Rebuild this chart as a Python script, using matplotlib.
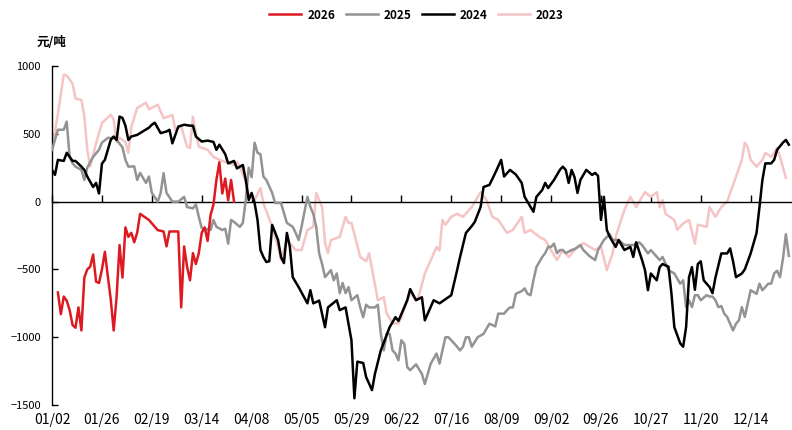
import matplotlib
matplotlib.use("Agg")
import matplotlib.pyplot as plt

plt.rcParams['font.family'] = ['Noto Sans CJK SC', 'DejaVu Sans']
plt.rcParams['font.weight'] = 'medium'

# trading-day index (0 = first trading day of the year) and spread, 元/吨
days_2026 = [2, 3, 4, 5, 6, 7, 8, 9, 10, 11,
             12, 13, 14, 15, 16, 17, 18, 19, 20, 21,
             22, 23, 24, 25, 26, 27, 28, 29, 30,
             33, 36, 38, 39, 40, 43,
             44, 45, 46, 47, 48, 49, 50, 51, 52, 53,
             54, 55, 56, 57, 58, 59, 60, 61, 62]
vals_2026 = [-670, -830, -700, -730, -800, -910, -930, -780, -950, -560,
             -500, -480, -390, -590, -600, -500, -370, -550, -720, -950,
             -700, -320, -560, -190, -260, -230, -300, -230, -90,
             -135, -210, -220, -330, -220, -220,
             -780, -330, -480, -580, -380, -460, -380, -230, -190, -290,
             -100, -20, 160, 290, 60, 170, 10, 160, 0]

days_2025 = [0, 1, 2, 4, 5, 6, 7, 8, 10, 11,
             12, 14, 16, 17, 19, 21, 22, 24, 25, 26,
             28, 29, 30, 32, 33, 34, 36, 37, 38, 39,
             41, 43, 45, 46, 48, 49, 50, 51, 54, 55,
             56, 58, 59, 60, 61, 62, 64, 65, 66, 67,
             68, 69, 70, 71, 72, 73, 75, 76, 78, 80,
             82, 83, 84, 85, 87, 88, 89, 90, 91, 92,
             93, 95, 96, 97, 98, 99, 100, 101, 102, 104,
             105, 106, 107, 108, 110, 111, 112, 113, 114, 115,
             116, 117, 118, 119, 120, 121, 122, 124, 126, 127,
             129, 131, 132, 133, 134, 135, 136, 138, 139, 140,
             141, 142, 143, 145, 147, 149, 151, 152, 154, 155,
             156, 157, 158, 160, 161, 162, 163, 164, 165, 167,
             168, 169, 170, 171, 172, 173, 174, 175, 177, 178,
             180, 181, 183, 185, 186, 188, 190, 191, 193, 195,
             197, 198, 200, 201, 203, 204, 207, 208, 210, 212,
             214, 215, 216, 217, 218, 219, 220, 221, 223, 224,
             225, 226, 227, 228, 229, 230, 232, 233, 234, 235,
             236, 237, 238, 240, 241, 242, 243, 244, 245, 246,
             247, 248, 249, 250, 251]
vals_2025 = [382, 455, 530, 530, 590, 330, 282, 258, 234, 160,
             250, 330, 382, 435, 470, 470, 455, 400, 308, 258,
             260, 160, 212, 138, 185, 64, 0, 64, 210, 64,
             0, 0, 35, -40, -50, -20, -112, -195, -209, -135,
             -186, -209, -200, -310, -135, -150, -186, -157, 12, 250,
             180, 435, 360, 350, 185, 160, 64, -10, -10, -157,
             -186, -231, -283, -186, 35, -40, -90, -186, -382, -460,
             -557, -505, -580, -530, -675, -600, -675, -630, -727, -690,
             -780, -852, -760, -780, -780, -760, -975, -1097, -975, -975,
             -1097, -1120, -1170, -1022, -1050, -1220, -1243, -1200, -1270, -1345,
             -1195, -1120, -1195, -1097, -1000, -1000, -1022, -1070, -1097, -1070,
             -1000, -1000, -1070, -1000, -975, -900, -920, -826, -826, -800,
             -780, -780, -680, -660, -640, -680, -690, -580, -483, -408,
             -380, -334, -334, -310, -380, -357, -357, -380, -357, -350,
             -320, -357, -400, -431, -357, -283, -240, -283, -283, -320,
             -320, -320, -300, -320, -382, -357, -431, -408, -505, -530,
             -605, -580, -778, -727, -778, -690, -690, -727, -690, -700,
             -700, -727, -778, -770, -826, -850, -950, -900, -875, -778,
             -850, -750, -653, -680, -605, -653, -630, -605, -605, -530,
             -510, -557, -420, -240, -400]

days_2024 = [0, 1, 2, 4, 5, 7, 8, 10, 11, 12,
             14, 15, 16, 17, 18, 20, 21, 22, 23, 24,
             25, 26, 27, 29, 33, 34, 35, 37, 39, 40,
             41, 43, 45, 47, 48, 49, 51, 53, 55, 56,
             57, 59, 60, 62, 63, 65, 66, 67, 68, 69,
             70, 71, 72, 73, 74, 75, 77, 78, 79, 80,
             81, 82, 84, 87, 88, 89, 91, 93, 94, 97,
             98, 100, 102, 103, 104, 106, 107, 109, 110, 112,
             115, 117, 118, 119, 121, 122, 124, 126, 127, 130,
             132, 135, 136, 138, 139, 141, 143, 144, 146, 147,
             149, 151, 152, 153, 154, 156, 158, 160, 161, 164,
             165, 167, 168, 169, 171, 173, 174, 175, 176, 177,
             178, 179, 180, 182, 184, 185, 186, 187, 188, 189,
             190, 192, 193, 195, 197, 198, 199, 201, 202, 203,
             204, 206, 207, 208, 210, 211, 212, 214, 215, 216,
             217, 218, 219, 220, 221, 222, 224, 225, 226, 228,
             230, 231, 232, 233, 235, 236, 238, 240, 241, 242,
             243, 245, 246, 247, 249, 250, 251]
vals_2024 = [234, 197, 308, 300, 360, 300, 300, 258, 234, 185,
             108, 138, 60, 280, 308, 455, 480, 455, 627, 617,
             560, 455, 480, 492, 545, 567, 582, 505, 517, 530,
             430, 553, 567, 560, 560, 480, 443, 450, 440, 382,
             420, 350, 282, 300, 245, 270, 160, 12, 64, -10,
             -135, -357, -408, -445, -440, -172, -283, -408, -453, -231,
             -330, -557, -630, -750, -653, -750, -730, -926, -780, -727,
             -800, -780, -1022, -1450, -1180, -1190, -1293, -1390, -1270, -1097,
             -926, -852, -880, -830, -727, -645, -727, -705, -875, -727,
             -750, -705, -690, -505, -408, -231, -180, -150, -40, 108,
             123, 212, 260, 308, 185, 234, 200, 138, 35, -75,
             35, 86, 138, 100, 160, 234, 258, 234, 138, 234,
             180, 64, 160, 234, 197, 212, 190, -135, 35, -209,
             -260, -334, -283, -357, -334, -408, -300, -431, -505, -653,
             -530, -580, -483, -460, -480, -675, -926, -1045, -1070, -926,
             -557, -483, -650, -460, -440, -580, -630, -675, -560, -382,
             -382, -345, -440, -557, -530, -500, -382, -231, -40, 160,
             282, 282, 308, 382, 435, 455, 420]

days_2023 = [0, 2, 4, 5, 7, 8, 10, 11, 12, 13,
             15, 17, 20, 21, 22, 23, 25, 26, 27, 29,
             32, 33, 36, 38, 40, 41, 42, 44, 46, 47,
             48, 49, 50, 53, 55, 57, 60, 62, 63, 64,
             66, 67, 69, 71, 72, 75, 77, 78, 80, 83,
             85, 87, 89, 90, 92, 93, 94, 95, 98, 100,
             101, 102, 105, 107, 108, 111, 113, 114, 116, 118,
             119, 122, 124, 125, 127, 129, 131, 132, 133, 134,
             136, 138, 140, 143, 146, 148, 150, 152, 155, 157,
             160, 161, 163, 166, 168, 170, 172, 174, 176, 178,
             181, 185, 187, 189, 191, 192, 195, 197, 199, 201,
             202, 204, 206, 207, 208, 209, 212, 213, 215, 217,
             219, 220, 223, 224, 226, 228, 230, 231, 233, 235,
             236, 237, 238, 240, 242, 243, 245, 247, 248, 250]
vals_2023 = [380, 650, 936, 930, 870, 760, 750, 630, 380, 260,
             430, 580, 640, 605, 440, 470, 440, 360, 550, 690,
             730, 680, 715, 615, 630, 640, 530, 555, 405, 395,
             627, 505, 405, 382, 330, 308, 285, 270, 293, 258,
             150, 50, 10, 100, -10, -186, -334, -431, -283, -357,
             -357, -209, -186, 64, -40, -305, -379, -283, -260, -112,
             -157, -157, -408, -440, -380, -727, -705, -823, -898, -898,
             -852, -675, -727, -690, -530, -431, -334, -360, -135, -170,
             -112, -90, -112, -40, 70, 12, -112, -135, -231, -209,
             -112, -231, -209, -260, -283, -357, -431, -357, -408, -357,
             -305, -357, -330, -505, -380, -260, -61, 35, -40, 35,
             70, 35, 70, -40, 12, -90, -135, -209, -160, -135,
             -310, -170, -186, -40, -112, -40, 0, 64, 183, 308,
             435, 400, 308, 258, 308, 360, 330, 396, 330, 175]

tick_days = [0, 17, 34, 51, 68, 85, 102, 119, 136, 153, 170, 187, 204, 221, 238]
tick_labels = ['01/02', '01/26', '02/19', '03/14', '04/08', '05/05', '05/29',
               '06/22', '07/16', '08/09', '09/02', '09/26', '10/27', '11/20', '12/14']


def main():
    fig = plt.figure(figsize=(7.92, 4.30), dpi=100)
    ax = fig.add_axes([0.0657, 0.058, 0.934, 0.7885])

    ax.plot(days_2023, vals_2023, color='#F5C4C4', lw=1.8, label='2023', zorder=2)
    ax.plot(days_2025, vals_2025, color='#939393', lw=1.8, label='2025', zorder=3)
    ax.plot(days_2024, vals_2024, color='#000000', lw=1.8, label='2024', zorder=4)
    ax.plot(days_2026, vals_2026, color='#DD1A21', lw=1.8, label='2026', zorder=5)

    ax.set_xlim(0, 252)
    ax.set_ylim(-1500, 1000)
    ax.set_yticks([-1500, -1000, -500, 0, 500, 1000])

    for s in ['top', 'right']:
        ax.spines[s].set_visible(False)
    ax.spines['bottom'].set_position(('data', 0))
    ax.spines['bottom'].set_linewidth(1.0)
    ax.spines['left'].set_linewidth(1.0)

    ax.set_xticks(tick_days)
    ax.tick_params(axis='x', direction='in', length=5, width=1, labelbottom=False)
    ax.tick_params(axis='y', direction='in', length=4, width=1, labelsize=8, pad=8)

    sec = ax.secondary_xaxis('bottom')
    sec.set_xticks(tick_days, tick_labels)
    sec.tick_params(length=0, labelsize=10, pad=6)
    sec.spines['bottom'].set_visible(False)

    fig.text(52 / 792, 1 - 42 / 430, '元/吨', ha='center', va='center',
             fontsize=9, fontweight='bold')

    handles, labels = ax.get_legend_handles_labels()
    order = [labels.index(y) for y in ['2026', '2025', '2024', '2023']]
    fig.legend([handles[i] for i in order], [labels[i] for i in order],
               loc='center', bbox_to_anchor=(0.526, 0.965), ncol=4, frameon=False,
               handlelength=2.7, handletextpad=0.5, columnspacing=0.9,
               prop={'size': 8.5, 'weight': 'bold'})

    fig.savefig('out.png', dpi=100)


if __name__ == "__main__":
    main()
